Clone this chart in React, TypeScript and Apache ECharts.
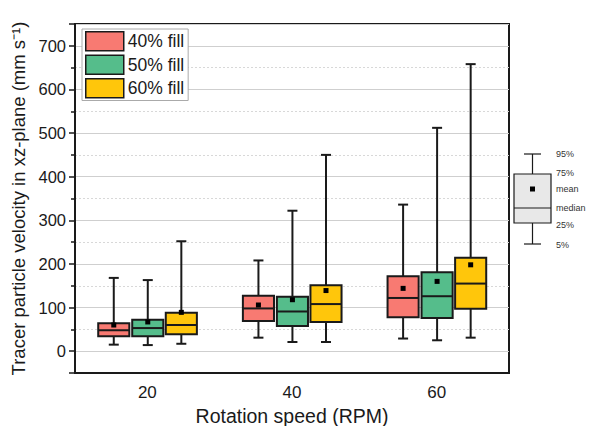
import React, { useEffect, useRef } from 'react';
import * as echarts from 'echarts';

// Rotation speeds (RPM)
const categories = ['20', '40', '60'];

// Box data per fill level: [p5, q1, median, q3, p95]
const fill40Boxes = [
  [15, 34, 48, 64, 168],
  [31, 69, 98, 127, 208],
  [29, 78, 122, 172, 336]
];
const fill50Boxes = [
  [14, 34, 53, 72, 163],
  [21, 58, 91, 125, 322],
  [25, 76, 126, 181, 512]
];
const fill60Boxes = [
  [17, 39, 60, 88, 252],
  [21, 67, 108, 151, 450],
  [31, 97, 155, 214, 658]
];

// Means per fill level
const fill40Means = [60, 106, 144];
const fill50Means = [67, 118, 160];
const fill60Means = [89, 139, 198];

const seriesNames = ['40% fill', '50% fill', '60% fill'];
const seriesColors = ['#F87A72', '#55BD8B', '#FFC60B'];

const FONT = "'Liberation Sans', Arial, sans-serif";
const INK = '#1a1a1a';

const makeSeries = (
  name: string,
  boxes: number[][],
  means: number[],
  color: string,
  offset: number
) => ({
  name,
  type: 'custom',
  itemStyle: { color },
  data: boxes.map((b, i) => [i, ...b, means[i]]),
  renderItem: (params: any, api: any) => {
    const idx = api.value(0);
    const band = api.size([1, 0])[0];
    const cx = api.coord([idx, 0])[0] + offset * band;
    const w = band * 0.215;
    const cap = 10;
    const y = (d: number) => api.coord([idx, api.value(d)])[1];
    const yP5 = y(1);
    const yQ1 = y(2);
    const yMed = y(3);
    const yQ3 = y(4);
    const yP95 = y(5);
    const yMean = y(6);
    const lineStyle = { stroke: INK, lineWidth: 2 };
    return {
      type: 'group',
      children: [
        { type: 'line', shape: { x1: cx, y1: yP95, x2: cx, y2: yQ3 }, style: lineStyle },
        { type: 'line', shape: { x1: cx, y1: yQ1, x2: cx, y2: yP5 }, style: lineStyle },
        { type: 'line', shape: { x1: cx - cap / 2, y1: yP95, x2: cx + cap / 2, y2: yP95 }, style: lineStyle },
        { type: 'line', shape: { x1: cx - cap / 2, y1: yP5, x2: cx + cap / 2, y2: yP5 }, style: lineStyle },
        {
          type: 'rect',
          shape: { x: cx - w / 2, y: yQ3, width: w, height: yQ1 - yQ3 },
          style: { fill: color, stroke: INK, lineWidth: 2 }
        },
        { type: 'line', shape: { x1: cx - w / 2, y1: yMed, x2: cx + w / 2, y2: yMed }, style: lineStyle },
        {
          type: 'rect',
          shape: { x: cx - 2.5, y: yMean - 2.5, width: 5, height: 5 },
          style: { fill: '#000' }
        }
      ]
    };
  }
});

// Small key explaining the box glyph, drawn right of the plot
const keyLabels = ['95%', '75%', 'mean', 'median', '25%', '5%'];
const keyLabelY = [154, 173, 189, 208, 225, 245];

const buildKey = () => {
  const cx = 532.5;
  const s = { stroke: INK, lineWidth: 1.2 };
  const items: any[] = [
    { type: 'line', shape: { x1: cx, y1: 154, x2: cx, y2: 174 }, style: s },
    { type: 'line', shape: { x1: cx, y1: 223, x2: cx, y2: 244 }, style: s },
    { type: 'line', shape: { x1: 524, y1: 154, x2: 541, y2: 154 }, style: s },
    { type: 'line', shape: { x1: 524, y1: 244, x2: 541, y2: 244 }, style: s },
    { type: 'rect', shape: { x: 514, y: 174, width: 37, height: 49 }, style: { fill: '#e8e8e8', stroke: INK, lineWidth: 1.2 } },
    { type: 'line', shape: { x1: 514, y1: 208, x2: 551, y2: 208 }, style: s },
    { type: 'rect', shape: { x: 530, y: 186.5, width: 5, height: 5 }, style: { fill: '#000' } }
  ];
  keyLabels.forEach((t, i) => {
    items.push({
      type: 'text',
      x: 556,
      y: keyLabelY[i],
      style: { text: t, fill: '#333', font: `9px ${FONT}`, verticalAlign: 'middle' }
    });
  });
  return items;
};

const App: React.FC = () => {
  const chartRef = useRef<HTMLDivElement>(null);

  useEffect(() => {
    if (!chartRef.current) return;
    const chart = echarts.init(chartRef.current, undefined, { renderer: 'svg' });

    const option = {
      animation: false,
      backgroundColor: '#fff',
      textStyle: { fontFamily: FONT },
      grid: {
        left: 75,
        right: 80,
        top: 24,
        bottom: 53,
        outerBoundsMode: 'none',
        show: true,
        borderColor: INK,
        borderWidth: 2,
        backgroundColor: 'transparent'
      },
      legend: {
        orient: 'vertical',
        left: 82,
        top: 29,
        icon: 'rect',
        itemWidth: 38,
        itemHeight: 19,
        itemGap: 3,
        padding: [2, 4, 2, 3],
        backgroundColor: '#fff',
        borderColor: '#aaa',
        borderWidth: 1,
        data: seriesNames,
        itemStyle: { borderColor: INK, borderWidth: 1.5 },
        textStyle: { fontSize: 17.5, color: INK, fontFamily: FONT, padding: [0, 0, 0, -1] }
      },
      xAxis: {
        type: 'category',
        data: categories,
        name: 'Rotation speed (RPM)',
        nameLocation: 'middle',
        nameGap: 30,
        nameTextStyle: { fontSize: 19.5, color: INK, fontFamily: FONT },
        axisLine: { onZero: false, lineStyle: { color: INK, width: 2 } },
        axisTick: { alignWithLabel: true, length: 6, lineStyle: { color: INK, width: 1.5 } },
        axisLabel: { fontSize: 17, color: INK, margin: 11, fontFamily: FONT },
        splitLine: { show: false }
      },
      yAxis: {
        type: 'value',
        min: -50,
        max: 750,
        minInterval: 100,
        maxInterval: 100,
        name: 'Tracer particle velocity in xz-plane (mm s⁻¹)',
        nameLocation: 'middle',
        nameGap: 43,
        nameTextStyle: { fontSize: 18.5, color: INK, fontFamily: FONT },
        axisLine: { show: true, lineStyle: { color: INK, width: 2 } },
        axisTick: { show: true, length: 6, lineStyle: { color: INK, width: 1.5 } },
        minorTick: { show: true, splitNumber: 2, length: 4, lineStyle: { color: INK, width: 1.5 } },
        axisLabel: {
          fontSize: 16.5,
          color: INK,
          margin: 9,
          fontFamily: FONT,
          showMinLabel: false,
          showMaxLabel: false,
          formatter: (v: number) => (v % 100 === 0 ? String(v) : '')
        },
        splitLine: { show: true, lineStyle: { color: '#cfcfcf', width: 1 } },
        minorSplitLine: { show: true, lineStyle: { color: '#d8d8d8', width: 1, type: [2, 2] } }
      },
      graphic: buildKey(),
      series: [
        makeSeries(seriesNames[0], fill40Boxes, fill40Means, seriesColors[0], -0.232),
        makeSeries(seriesNames[1], fill50Boxes, fill50Means, seriesColors[1], 0.003),
        makeSeries(seriesNames[2], fill60Boxes, fill60Means, seriesColors[2], 0.235)
      ]
    };

    chart.setOption(option as any);

    return () => {
      chart.dispose();
    };
  }, []);

  return (
    <div
      ref={chartRef}
      style={{ position: 'fixed', left: 0, top: 0, width: '589px', height: '426px' }}
    />
  );
};

export default App;
